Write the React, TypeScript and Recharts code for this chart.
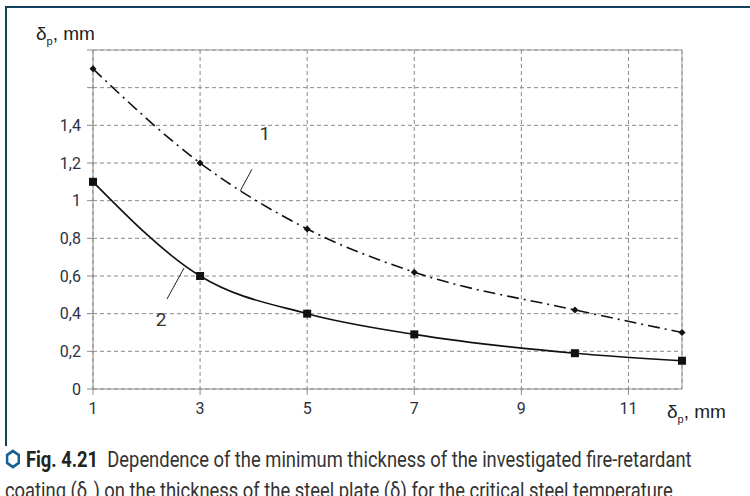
import { LineChart, Line, XAxis, YAxis, CartesianGrid, ReferenceLine, ReferenceDot } from 'recharts';

// steel plate thickness, mm
const plateThickness = [1, 3, 5, 7, 10, 12];
// curve 1 (dash-dot) and curve 2 (solid), coating thickness, mm
const curve1 = [1.7, 1.2, 0.85, 0.62, 0.42, 0.3];
const curve2 = [1.1, 0.6, 0.4, 0.29, 0.19, 0.15];

const xTicks = [1, 3, 5, 7, 9, 11];
const yTicks = [0, 0.2, 0.4, 0.6, 0.8, 1, 1.2, 1.4, 1.6, 1.8];
const yLabeled = [0, 0.2, 0.4, 0.6, 0.8, 1, 1.2, 1.4];

// curve labels and their leader lines, in data units
const curveLabels = [
  { name: '1', x: 4.21, y: 1.36, from: { x: 3.97, y: 1.167 }, to: { x: 3.75, y: 1.052 } },
  { name: '2', x: 2.27, y: 0.37, from: { x: 2.38, y: 0.477 }, to: { x: 2.7, y: 0.642 } },
];

const data = plateThickness.map((x, i) => ({ x, c1: curve1[i], c2: curve2[i] }));

const tickFont = 'Roboto, sans-serif';
const labelFont = '"Liberation Sans", Arial, sans-serif';

const fmtY = (v: number) => {
  if (!yLabeled.some((t) => Math.abs(t - v) < 1e-6)) return '';
  return String(Math.round(v * 10) / 10).replace('.', ',');
};

const Diamond = (props: any) => {
  const { cx, cy } = props;
  if (cx == null || cy == null) return null;
  return <path d={`M${cx},${cy - 3.5}L${cx + 3.5},${cy}L${cx},${cy + 3.5}L${cx - 3.5},${cy}Z`} fill="#111" />;
};

const Square = (props: any) => {
  const { cx, cy } = props;
  if (cx == null || cy == null) return null;
  return <rect x={cx - 4} y={cy - 4} width={8} height={8} fill="#111" />;
};

export default function App() {
  return (
    <div style={{ position: 'relative', width: 750, height: 496, background: '#fff', overflow: 'hidden' }}>
      <style>{`body{margin:0}`}</style>
      {/* frame */}
      <div style={{ position: 'absolute', left: 5, top: 6, width: 745, height: 2, background: '#12405f' }} />
      <div style={{ position: 'absolute', left: 5, top: 6, width: 2, height: 440, background: '#12405f' }} />

      <div style={{ position: 'absolute', left: 0, top: 0 }}>
        <LineChart width={750} height={430} data={data} margin={{ top: 50, right: 68, bottom: 11, left: 0 }}>
          <CartesianGrid stroke="#8a8a8a" strokeDasharray="4 3" />
          <XAxis
            dataKey="x"
            type="number"
            domain={[1, 12]}
            ticks={xTicks}
            height={30}
            axisLine={{ stroke: '#8a8a8a' }}
            tickLine={{ stroke: '#8a8a8a' }}
            tickSize={6}
            tickMargin={8}
            tick={{ fill: '#2a3242', fontSize: 16, fontFamily: tickFont }}
          />
          <YAxis
            type="number"
            domain={[0, 1.8]}
            ticks={yTicks}
            width={93}
            interval={0}
            tickFormatter={fmtY}
            axisLine={{ stroke: '#8a8a8a' }}
            tickLine={{ stroke: '#8a8a8a' }}
            tickSize={6}
            tickMargin={6}
            tick={{ fill: '#2a3242', fontSize: 16, fontFamily: tickFont }}
          />
          <ReferenceLine y={1.8} stroke="#9a9a9a" />
          <ReferenceLine x={12} stroke="#9a9a9a" />
          {curveLabels.map((l) => (
            <ReferenceLine key={'s' + l.name} segment={[l.from, l.to]} stroke="#222" strokeWidth={1} />
          ))}
          {curveLabels.map((l) => (
            <ReferenceDot
              key={'d' + l.name}
              x={l.x}
              y={l.y}
              r={0}
              stroke="none"
              fill="none"
              label={{ value: l.name, position: 'center', fill: '#333', fontSize: 19, fontFamily: tickFont }}
            />
          ))}
          <Line
            type="monotone"
            dataKey="c1"
            stroke="#111"
            strokeWidth={1.6}
            strokeDasharray="12 5 2 5"
            dot={<Diamond />}
            activeDot={false}
            isAnimationActive={false}
          />
          <Line
            type="monotone"
            dataKey="c2"
            stroke="#111"
            strokeWidth={1.6}
            dot={<Square />}
            activeDot={false}
            isAnimationActive={false}
          />
        </LineChart>
      </div>

      {/* axis titles */}
      <div style={{ position: 'absolute', left: 36, top: 23, fontFamily: labelFont, fontSize: 19, color: '#222', lineHeight: '22px' }}>
        δ<sub style={{ fontSize: 11 }}>p</sub>, mm
      </div>
      <div style={{ position: 'absolute', left: 667, top: 401, fontFamily: labelFont, fontSize: 19, color: '#222', lineHeight: '22px' }}>
        δ<sub style={{ fontSize: 11 }}>p</sub>, mm
      </div>

      {/* caption */}
      <div
        style={{
          position: 'absolute',
          left: 5,
          top: 444,
          fontFamily: tickFont,
          fontSize: 22,
          color: '#333',
          lineHeight: '31px',
          whiteSpace: 'nowrap',
          transform: 'scaleX(0.835)',
          transformOrigin: 'left top',
        }}
      >
        <svg width={19} height={20} viewBox="0 0 19 20" style={{ verticalAlign: '-2px', marginRight: 6 }}>
          <polygon points="9.5,2 16.5,6 16.5,14 9.5,18 2.5,14 2.5,6" fill="none" stroke="#1a5f93" strokeWidth={3} />
        </svg>
        <b style={{ color: '#222' }}>Fig. 4.21</b>&nbsp; Dependence of the minimum thickness of the investigated fire-retardant
        <br />
        coating (δ<sub style={{ fontSize: 13 }}>p</sub>) on the thickness of the steel plate (δ) for the critical steel temperature
      </div>
    </div>
  );
}
